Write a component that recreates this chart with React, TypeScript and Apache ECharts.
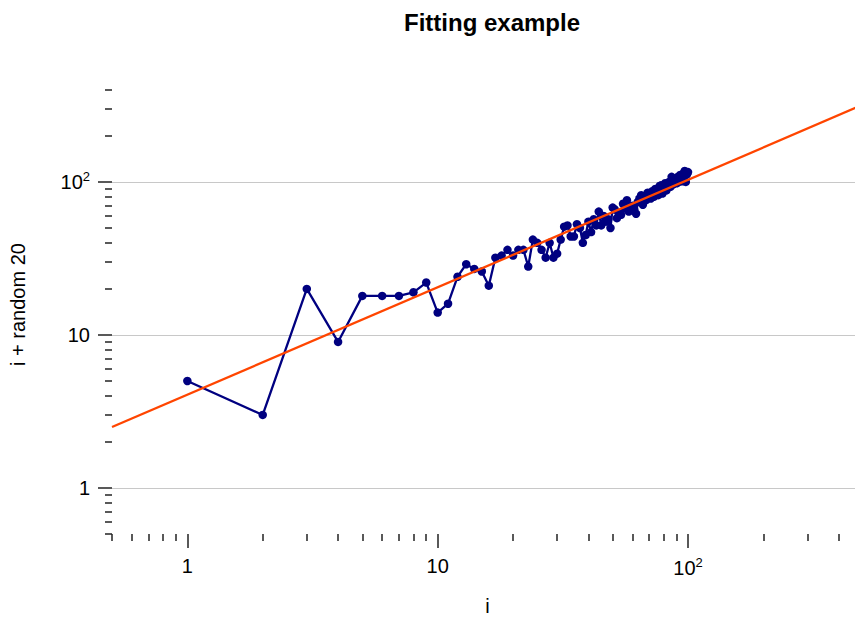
import React, { useEffect, useRef } from "react";
import * as echarts from "echarts";

const xValues: number[] = Array.from({ length: 100 }, (_, k) => k + 1);
const yValues: number[] = [
  5, 3, 20, 9, 18, 18, 18, 19, 22, 14,
  16, 24, 29, 27, 26, 21, 32, 33, 36, 33,
  36, 36, 28, 42, 40, 36, 32, 40, 32, 34,
  42, 51, 52, 44, 44, 53, 50, 40, 45, 55,
  47, 57, 52, 64, 52, 60, 55, 57, 50, 68,
  66, 58, 62, 61, 72, 67, 76, 64, 67, 70,
  66, 62, 74, 78, 82, 71, 80, 76, 85, 84,
  78, 87, 80, 90, 86, 82, 94, 95, 84, 92,
  98, 88, 97, 100, 93, 108, 96, 102, 105, 98,
  108, 100, 111, 106, 101, 114, 118, 100, 112, 116,
];
const fitX: number[] = [0.5, 500];
const fitY: number[] = [2.5, 320];

const majorTicks: number[] = [1, 10, 100];
const minorTicks: number[] = [
  0.5, 0.6, 0.7, 0.8, 0.9, 2, 3, 4, 5, 6, 7, 8, 9,
  20, 30, 40, 50, 60, 70, 80, 90, 200, 300, 400,
];
const axisMin = 0.5;
const axisMax = 500;

const FONT = "'Liberation Sans', Arial, Helvetica, sans-serif";

function fmt(v: number): string {
  const r = Math.round(v);
  if (r === 100) return "10{sup|2}";
  return String(r);
}

export default function App() {
  const ref = useRef<HTMLDivElement>(null);
  useEffect(() => {
    if (!ref.current) return;
    const chart = echarts.init(ref.current, undefined, { renderer: "svg" });
    const tickColor = "#222";
    const labelStyle = {
      color: "#000",
      fontSize: 20,
      fontFamily: FONT,
      rich: {
        sup: { fontSize: 13, fontFamily: FONT, color: "#000", padding: [0, 0, 10, 0] },
      },
    };
    chart.setOption({
      animation: false,
      backgroundColor: "#fff",
      title: {
        text: "Fitting example",
        left: 487,
        top: 5,
        textAlign: "center",
        textStyle: { fontSize: 24, fontWeight: "bold", fontFamily: FONT, color: "#000" },
      },
      grid: { left: 112, top: 75, width: 751, height: 459, outerBoundsMode: "none", containLabel: false },
      xAxis: [
        {
          type: "log",
          logBase: 10,
          min: axisMin,
          max: axisMax,
          name: "i",
          nameLocation: "middle",
          nameGap: 62,
          nameTextStyle: { fontSize: 20, fontFamily: FONT, color: "#000" },
          axisLine: { show: false },
          axisTick: {
            show: true,
            customValues: majorTicks,
            length: 14,
            lineStyle: { color: tickColor, width: 1.5 },
          },
          axisLabel: { ...labelStyle, customValues: majorTicks, margin: 22, formatter: fmt },
          splitLine: { show: false },
        },
        {
          type: "log",
          logBase: 10,
          min: axisMin,
          max: axisMax,
          gridIndex: 0,
          position: "bottom",
          axisLine: { show: false },
          axisTick: {
            show: true,
            customValues: minorTicks,
            length: 7,
            lineStyle: { color: tickColor, width: 1.5 },
          },
          axisLabel: { show: false },
          splitLine: { show: false },
        },
      ],
      yAxis: [
        {
          type: "log",
          logBase: 10,
          min: axisMin,
          max: axisMax,
          name: "i + random 20",
          nameLocation: "middle",
          nameGap: 84,
          nameTextStyle: { fontSize: 20, fontFamily: FONT, color: "#000" },
          axisLine: { show: false },
          axisTick: {
            show: true,
            customValues: majorTicks,
            length: 14,
            lineStyle: { color: tickColor, width: 1.5 },
          },
          axisLabel: { ...labelStyle, customValues: majorTicks, margin: 22, formatter: fmt },
          splitLine: { show: true, lineStyle: { color: "#c8c8c8", width: 1 } },
        },
        {
          type: "log",
          logBase: 10,
          min: axisMin,
          max: axisMax,
          gridIndex: 0,
          position: "left",
          axisLine: { show: false },
          axisTick: {
            show: true,
            customValues: minorTicks,
            length: 7,
            lineStyle: { color: tickColor, width: 1.5 },
          },
          axisLabel: { show: false },
          splitLine: { show: false },
        },
      ],
      series: [
        {
          type: "line",
          xAxisIndex: 0,
          yAxisIndex: 0,
          data: xValues.map((x, k) => [x, yValues[k]]),
          symbol: "circle",
          symbolSize: 8.5,
          showAllSymbol: true,
          lineStyle: { color: "#000080", width: 2.3 },
          itemStyle: { color: "#000080" },
          z: 2,
        },
        {
          type: "line",
          xAxisIndex: 0,
          yAxisIndex: 0,
          data: fitX.map((x, k) => [x, fitY[k]]),
          symbol: "none",
          lineStyle: { color: "#ff4500", width: 2.3 },
          z: 3,
        },
      ],
    });
    return () => chart.dispose();
  }, []);
  return (
    <div
      ref={ref}
      style={{ position: "absolute", left: 0, top: 0, width: 855, height: 621 }}
    />
  );
}
